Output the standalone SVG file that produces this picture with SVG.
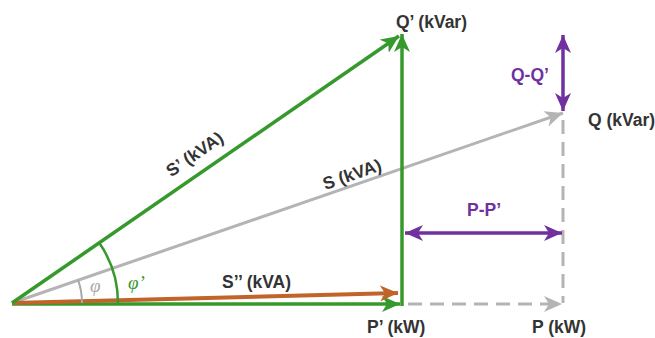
<svg xmlns="http://www.w3.org/2000/svg" width="655" height="338" viewBox="0 0 655 338">
<style>
.lbl{font-family:"Liberation Sans",Arial,sans-serif;font-weight:bold;font-size:17.5px;fill:#333333}
.pur{fill:#7030a0}
.phi{font-family:"Liberation Serif","Times New Roman",serif;font-style:italic;font-size:19px}
.green{stroke:#36992b;stroke-width:3.5;fill:none}
.gray{stroke:#b4b4b4;stroke-width:3;fill:none}
.dash{stroke:#b4b4b4;stroke-width:3;fill:none;stroke-dasharray:14 8}
.orange{stroke:#c0642a;stroke-width:4;fill:none}
.purple{stroke:#7030a0;stroke-width:3.5;fill:none}
</style>
<defs>
<marker id="ag" markerUnits="userSpaceOnUse" markerWidth="19" markerHeight="16" refX="18" refY="8" orient="auto-start-reverse"><path d="M0,0 L18,8 L0,16 L5,8 z" fill="#36992b"/></marker>
<marker id="ay" markerUnits="userSpaceOnUse" markerWidth="19" markerHeight="16" refX="18" refY="8" orient="auto-start-reverse"><path d="M0,0 L18,8 L0,16 L5,8 z" fill="#b4b4b4"/></marker>
<marker id="ao" markerUnits="userSpaceOnUse" markerWidth="19" markerHeight="16" refX="18" refY="8" orient="auto-start-reverse"><path d="M0,0 L18,8 L0,16 L5,8 z" fill="#c0642a"/></marker>
<marker id="ap" markerUnits="userSpaceOnUse" markerWidth="19" markerHeight="16" refX="18" refY="8" orient="auto-start-reverse"><path d="M0,0 L18,8 L0,16 L5,8 z" fill="#7030a0"/></marker>
</defs>
<rect width="655" height="338" fill="#ffffff"/>
<g id="connectors">
  <line class="gray" x1="12" y1="303" x2="563" y2="113" marker-end="url(#ay)"/>
  <line class="dash" x1="563" y1="120" x2="563" y2="303"/>
  <line class="dash" x1="408" y1="304" x2="562" y2="304" marker-end="url(#ay)"/>
  <line class="green" x1="12" y1="304" x2="400" y2="304" marker-end="url(#ag)"/>
  <line class="orange" x1="12" y1="303" x2="398" y2="293" marker-end="url(#ao)"/>
  <line class="green" x1="402" y1="306" x2="402" y2="34" marker-end="url(#ag)"/>
  <line class="green" x1="12" y1="303" x2="399" y2="36" marker-end="url(#ag)"/>
  <line class="purple" x1="563" y1="35" x2="563" y2="111" marker-start="url(#ap)" marker-end="url(#ap)"/>
  <line class="purple" x1="405" y1="233" x2="562" y2="233" marker-start="url(#ap)" marker-end="url(#ap)"/>
  <path d="M82,303 A70,70 0 0 0 78.2,280.2" stroke="#a8a8a8" stroke-width="2" fill="none"/>
  <path d="M118,303 A106,106 0 0 0 99.2,242.8" stroke="#36992b" stroke-width="2.5" fill="none"/>
</g>
<g id="node-Qprime"><text class="lbl" x="396" y="28">Q’ (kVar)</text></g>
<g id="node-Q"><text class="lbl" x="588" y="126">Q (kVar)</text></g>
<g id="node-QmQ"><text class="lbl pur" x="511" y="81">Q-Q’</text></g>
<g id="node-PmP"><text class="lbl pur" x="467" y="216">P-P’</text></g>
<g id="node-Pprime"><text class="lbl" x="367" y="333">P’ (kW)</text></g>
<g id="node-P"><text class="lbl" x="532" y="333">P (kW)</text></g>
<g id="node-Sdd"><text class="lbl" x="222" y="288">S’’ (kVA)</text></g>
<g id="node-Sprime"><text class="lbl" text-anchor="middle" transform="translate(198,159) rotate(-34.6)">S’ (kVA)</text></g>
<g id="node-S"><text class="lbl" text-anchor="middle" transform="translate(354,180) rotate(-19)">S (kVA)</text></g>
<g id="node-phi"><text class="phi" x="90" y="292" fill="#a8a8a8">φ</text></g>
<g id="node-phiprime"><text class="phi" x="128" y="289" fill="#36992b">φ’</text></g>
</svg>
